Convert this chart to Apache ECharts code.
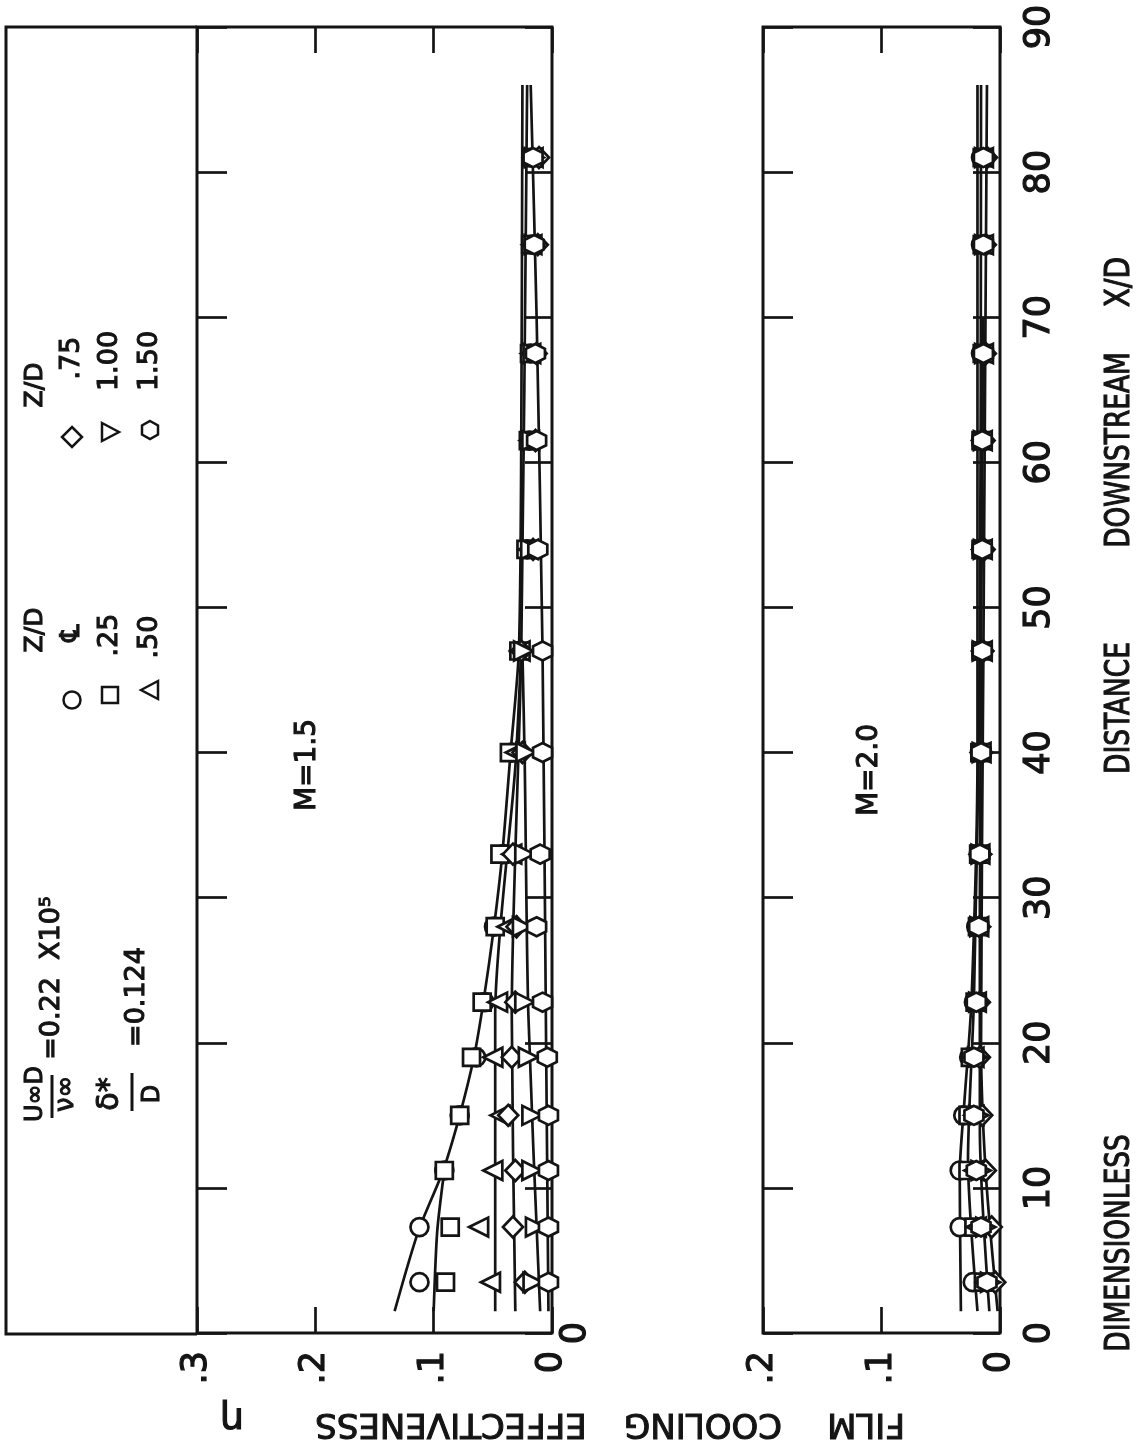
<!DOCTYPE html>
<html><head><meta charset="utf-8">
<script src="https://cdn.jsdelivr.net/npm/echarts/dist/echarts.min.js"></script>
<style>html,body{margin:0;padding:0;background:#fff}#c{width:1145px;height:1449px}</style>
</head><body><div id="c"></div>
<script>
// ---------------- DATA ----------------
const xdPositions = [3.5, 7.3, 11.2, 15, 19, 22.8, 28, 33, 40, 47, 54, 61.5, 67.5, 75, 81];
const etaTickLabels = ['0', '.1', '.2', '.3'];
const xdTickLabels = ['0','10','20','30','40','50','60','70','80','90'];

// M = 1.5 (upper / left panel), effectiveness eta at each X/D
const m15Center   = [0.112,0.112,0.091,0.078,0.064,0.057,0.049,0.041,0.034,0.028,0.021,0.019,0.018,0.017,0.017];
const m15Z025     = [0.090,0.086,0.091,0.078,0.068,0.059,0.048,0.044,0.036,0.028,0.022,0.020,0.019,0.018,0.017];
const m15Z050     = [0.052,0.062,0.050,0.044,0.050,0.046,0.038,0.034,0.031,0.027,0.020,0.019,0.018,0.017,0.016];
const m15Z075     = [0.023,0.033,0.031,0.037,0.034,0.031,0.030,0.033,0.025,0.026,0.016,0.014,0.013,0.012,0.011];
const m15Z100     = [0.016,0.014,0.017,0.017,0.020,0.023,0.025,0.023,0.022,0.024,0.018,0.017,0.016,0.015,0.015];
const m15Z150     = [0.003,0.003,0.003,0.003,0.004,0.008,0.013,0.010,0.008,0.008,0.012,0.013,0.014,0.015,0.016];

// M = 2.0 (lower / right panel)
const m20Center   = [0.023,0.034,0.034,0.031,0.026,0.022,0.020,0.018,0.017,0.016,0.016,0.016,0.016,0.016,0.016];
const m20Z025     = [0.014,0.022,0.027,0.027,0.025,0.021,0.019,0.018,0.017,0.016,0.016,0.016,0.015,0.015,0.015];
const m20Z050     = [0.012,0.020,0.022,0.022,0.022,0.020,0.018,0.017,0.016,0.015,0.015,0.015,0.014,0.014,0.014];
const m20Z075     = [0.004,0.007,0.012,0.015,0.017,0.017,0.017,0.016,0.015,0.014,0.013,0.013,0.012,0.012,0.011];
const m20Z100     = [0.008,0.012,0.016,0.018,0.019,0.018,0.017,0.016,0.015,0.015,0.014,0.014,0.013,0.013,0.013];
const m20Z150     = [0.011,0.016,0.020,0.022,0.022,0.020,0.018,0.017,0.016,0.015,0.015,0.015,0.014,0.014,0.014];

// faired curves: [eta, X/D]
const fitM15Center = [[0.133,1.5],[0.113,7],[0.092,11.2],[0.078,15],[0.066,19],[0.058,22.8],[0.049,28],[0.042,33],[0.035,40],[0.028,47],[0.026,61],[0.025,86]];
const fitM15Z025   = [[0.100,1.5],[0.097,7],[0.091,11.2]];
const fitM15Z050   = [[0.048,1.5],[0.048,22],[0.031,39],[0.026,47]];
const fitM15Z075   = [[0.031,1.5],[0.034,22],[0.026,47],[0.021,86]];
const fitM15Z100   = [[0.010,1.5],[0.020,22],[0.023,39],[0.025,47]];
const fitM15Z150   = [[0.003,1.5],[0.005,20],[0.008,47],[0.013,70],[0.018,86]];
const fitM20Center = [[0.033,1.5],[0.034,11],[0.030,16],[0.024,23],[0.019,40],[0.019,86]];
const fitM20Z025   = [[0.019,1.5],[0.027,12],[0.022,23],[0.017,47],[0.016,86]];
const fitM20Z075   = [[0.002,1.5],[0.012,11],[0.016,20],[0.014,47],[0.011,86]];
const fitM20Z100   = [[0.009,1.5],[0.017,14],[0.017,30],[0.014,70]];

// ---------------- STYLE ----------------
const INK = '#141414';
const FONT = 'DejaVu Sans';
const hexPath = 'path://M0,-1 L0.866,-0.5 L0.866,0.5 L0,1 L-0.866,0.5 L-0.866,-0.5 Z';
const markerDefs = [
  {symbol:'circle', size:18, rot:0},
  {symbol:'rect', size:17, rot:0},
  {symbol:'triangle', size:19, rot:90},
  {symbol:'diamond', size:[20,21], rot:0},
  {symbol:'triangle', size:19, rot:-90},
  {symbol:hexPath, size:19, rot:0}
];
const m15Sets = [m15Center, m15Z025, m15Z050, m15Z075, m15Z100, m15Z150];
const m20Sets = [m20Center, m20Z025, m20Z050, m20Z075, m20Z100, m20Z150];
const setNames = ['℄', '.25', '.50', '.75', '1.00', '1.50'];

function pairs(arr){ return arr.map((e,i)=>[e, xdPositions[i]]); }

const series = [];
function addFit(data, gi){
  series.push({type:'line', xAxisIndex: gi*2, yAxisIndex: gi*2, data, symbol:'none', smooth:0.25,
    lineStyle:{color:INK, width:2.7}, z:2, silent:true});
}
[fitM15Center, fitM15Z025, fitM15Z050, fitM15Z075, fitM15Z100, fitM15Z150].forEach(f=>addFit(f,0));
[fitM20Center, fitM20Z025, fitM20Z075, fitM20Z100].forEach(f=>addFit(f,1));
function addMarkers(sets, gi){
  sets.forEach((s,k)=>{
    const d = markerDefs[k];
    series.push({type:'scatter', name:setNames[k], xAxisIndex: gi*2, yAxisIndex: gi*2, data: pairs(s),
      symbol:d.symbol, symbolSize:d.size, symbolRotate:d.rot,
      itemStyle:{color:'#fff', borderColor:INK, borderWidth:2.7, opacity:1}, z:5+k});
  });
}
addMarkers(m15Sets, 0);
addMarkers(m20Sets, 1);

const labelStyle = {color:INK, fontFamily:FONT, fontSize:35, textBorderColor:INK, textBorderWidth:1.2};
function etaAxis(grid, max, pos, showLabel){
  return {type:'value', gridIndex:grid, min:0, max:max, interval:0.1, inverse:true, position:pos,
    axisLine:{show:false, onZero:false}, splitLine:{show:false},
    axisTick:{show:true, inside:true, length:26, lineStyle:{color:INK, width:2.7}},
    axisLabel:Object.assign({show:showLabel, rotate:90, margin:18,
      formatter:v=>etaTickLabels[Math.round(v*10)]}, labelStyle)};
}
function xdAxis(grid, pos, labelFn, tickLen, margin){
  return {type:'value', gridIndex:grid, min:0, max:90, interval:10, position:pos,
    axisLine:{show:false, onZero:false}, splitLine:{show:false},
    axisTick:{show:true, inside:true, length:tickLen, lineStyle:{color:INK, width:2.7}},
    axisLabel:Object.assign({show:!!labelFn, rotate:90, margin:margin||20,
      formatter:labelFn || (v=>'')}, labelStyle)};
}

// ---------------- GRAPHIC TEXT ----------------
const g = [];
function vtext(text, x, y, size, rot, sx, bw){
  g.push({type:'text', x, y, rotation: rot===undefined || rot===null ? Math.PI/2 : rot, scaleX: sx||1, z:20,
    style:{text, font:`${size}px "${FONT}"`, fill:INK, stroke:INK, lineWidth: bw===undefined ? 1.1 : bw,
      textAlign:'center', textVerticalAlign:'middle'}});
}
// annotation box left of the eta = .3 line
g.push({type:'polyline', z:10, shape:{points:[[197,27],[6,27],[6,1334],[197,1334]]}, style:{stroke:INK, lineWidth:3, fill:null}});
// legend
vtext('Z/D', 35, 630, 25); vtext('Z/D', 35, 385, 25);
vtext('℄', 72, 633, 27); vtext('.25', 110, 635, 27); vtext('.50', 150, 637, 27);
vtext('.75', 72, 358, 27); vtext('1.00', 110, 361, 27); vtext('1.50', 150, 361, 27);
const ls = {stroke:INK, lineWidth:2.5, fill:'#fff'};
g.push({type:'circle', z:20, shape:{cx:72, cy:700, r:8.5}, style:ls});
g.push({type:'rect', z:20, shape:{x:102, y:687, width:16, height:16}, style:ls});
g.push({type:'polygon', z:20, shape:{points:[[141,690],[158,681],[158,699]]}, style:ls});
g.push({type:'polygon', z:20, shape:{points:[[72,427],[82,437],[72,447],[62,437]]}, style:ls});
g.push({type:'polygon', z:20, shape:{points:[[119,432],[102,423],[102,441]]}, style:ls});
g.push({type:'polygon', z:20, shape:{points:[[150,421],[158,425.5],[158,434.5],[150,439],[142,434.5],[142,425.5]]}, style:ls});
// flow parameters
vtext('U∞D', 36, 1094, 24); vtext('ν∞', 66, 1094, 26);
g.push({type:'line', z:20, shape:{x1:52, y1:1075, x2:52, y2:1118}, style:{stroke:INK, lineWidth:3}});
vtext('=0.22  X10⁵', 52, 978, 27);
vtext('δ*', 110, 1094, 30); vtext('D', 153, 1094, 24);
g.push({type:'line', z:20, shape:{x1:132, y1:1073, x2:132, y2:1111}, style:{stroke:INK, lineWidth:3}});
vtext('=0.124', 137, 997, 27);
// blowing ratios
vtext('M=1.5', 308, 765, 28);
vtext('M=2.0', 870, 770, 28);
// eta axis title (upside down)
vtext('FILM', 866, 1423, 34, Math.PI);
vtext('COOLING', 703, 1423, 34, Math.PI);
vtext('EFFECTIVENESS', 451, 1423, 34, Math.PI);
vtext('η', 232, 1418, 38, Math.PI);
// X/D axis title
vtext('X/D', 1120, 282, 33, null, 0.85);
vtext('DOWNSTREAM', 1120, 450, 33, null, 0.8);
vtext('DISTANCE', 1120, 708, 33, null, 0.8);
vtext('DIMENSIONLESS', 1120, 1243, 33, null, 0.8);

const option = {
  animation:false,
  backgroundColor:'#fff',
  grid:[
    {left:197, right:593, top:27, bottom:116, show:true, borderColor:INK, borderWidth:3, backgroundColor:'transparent'},
    {left:763, right:145, top:27, bottom:116, show:true, borderColor:INK, borderWidth:3, backgroundColor:'transparent'}
  ],
  xAxis:[ etaAxis(0, 0.3, 'bottom', true), etaAxis(0, 0.3, 'top', false),
          etaAxis(1, 0.2, 'bottom', true), etaAxis(1, 0.2, 'top', false) ],
  yAxis:[ xdAxis(0, 'left', null, 30), xdAxis(0, 'right', v=>v===0?'0':'', 27, 6),
          xdAxis(1, 'left', null, 30), xdAxis(1, 'right', v=>xdTickLabels[Math.round(v/10)], 27, 22) ],
  series,
  graphic:g
};
const chart = echarts.init(document.getElementById('c'), null, {renderer:'canvas'});
chart.setOption(option);
</script></body></html>
